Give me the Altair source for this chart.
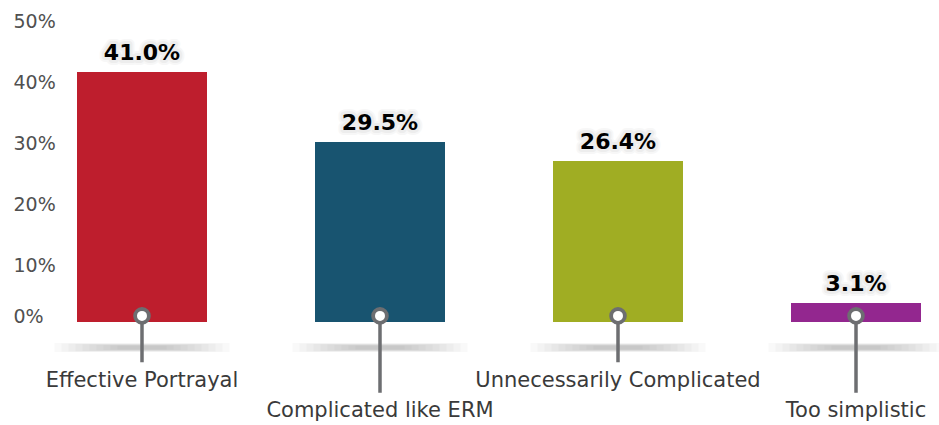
import altair as alt
import pandas as pd

categories = ["Effective Portrayal", "Complicated like ERM", "Unnecessarily Complicated", "Too simplistic"]
values = [41.0, 29.5, 26.4, 3.1]
colors = ["#BE1E2D", "#185470", "#A0AD23", "#93278F"]
stagger = [0, 1, 0, 1]
tick_values = [0, 10, 20, 30, 40, 50]

# vertical levels in data units (percent)
PIN_Y = 1.0
SHADOW_Y = -4.2
LINE_END = [-6.6, -11.6]
LABEL_Y = [-9.6, -14.6]

df = pd.DataFrame({
    "cat": categories,
    "value": values,
    "color": colors,
    "pin": [PIN_Y] * 4,
    "shadow": [SHADOW_Y] * 4,
    "line_end": [LINE_END[s] for s in stagger],
    "label_y": [LABEL_Y[s] for s in stagger],
    "txt": [f"{v:.1f}%" for v in values],
})

W, H = 939, 425
xscale = alt.Scale(domain=categories, range=[77, 921], paddingInner=0.4538, paddingOuter=0)
yscale = alt.Scale(domain=[-16.885, 52.787], nice=False, zero=False)

x = alt.X("cat:N", scale=xscale, axis=None, sort=categories)

base = alt.Chart(df)

bars = base.mark_bar().encode(
    x=x,
    y=alt.Y("value:Q", scale=yscale, axis=alt.Axis(
        values=tick_values, title=None, grid=False, domain=False, ticks=False, tickSize=0,
        labelAlign="left", labelBaseline="middle", offset=-13, labelPadding=0,
        labelFont="DejaVu Sans", labelFontSize=19, labelColor="#505050",
        labelExpr="datum.value + '%'",
        labelOffset={"condition": {"test": "datum.value == 0", "value": -6}, "value": 4},
    )),
    y2=alt.datum(0),
    color=alt.Color("color:N", scale=None),
)

shadow_layers = []
n = 10
for i in range(n):
    size = 175 - i * 14
    thick = 9 - i * 0.6
    shadow_layers.append(
        base.mark_tick(orient="horizontal", size=size, thickness=thick, color="#555555", opacity=0.035).encode(
            x=x, y=alt.Y("shadow:Q", scale=yscale)
        )
    )

pin_line = base.mark_rule(color="#6D6E71", strokeWidth=3.5).encode(
    x=x, y=alt.Y("pin:Q", scale=yscale), y2="line_end:Q"
)
pin_circle = base.mark_point(shape="circle", filled=True, fill="white", stroke="#6D6E71",
                             strokeWidth=3.8, size=190, opacity=1).encode(
    x=x, y=alt.Y("pin:Q", scale=yscale)
)

glow_layers = []
for sw, op in [(10, 0.05), (6, 0.07)]:
    glow_layers.append(
        base.mark_text(font="DejaVu Sans", fontWeight="bold", fontSize=22, dy=-19,
                       baseline="middle", align="center", color="#777777",
                       stroke="#777777", strokeWidth=sw, strokeJoin="round", opacity=op).encode(
            x=x, y=alt.Y("value:Q", scale=yscale), text="txt:N"
        )
    )
value_labels = base.mark_text(font="DejaVu Sans", fontWeight="bold", fontSize=22, dy=-19,
                              baseline="middle", align="center", color="#000000").encode(
    x=x, y=alt.Y("value:Q", scale=yscale), text="txt:N"
)

cat_labels = base.mark_text(font="DejaVu Sans", fontSize=21, baseline="middle",
                            align="center", color="#3a3a3a").encode(
    x=x, y=alt.Y("label_y:Q", scale=yscale), text="cat:N"
)

chart = alt.layer(bars, *shadow_layers, pin_line, pin_circle, *glow_layers, value_labels, cat_labels).properties(
    width=W, height=H, autosize=alt.AutoSizeParams(type="none"), padding=0, background="white"
).configure_view(stroke=None)

chart.save("out.html", embed_options={"renderer": "svg", "actions": False})
